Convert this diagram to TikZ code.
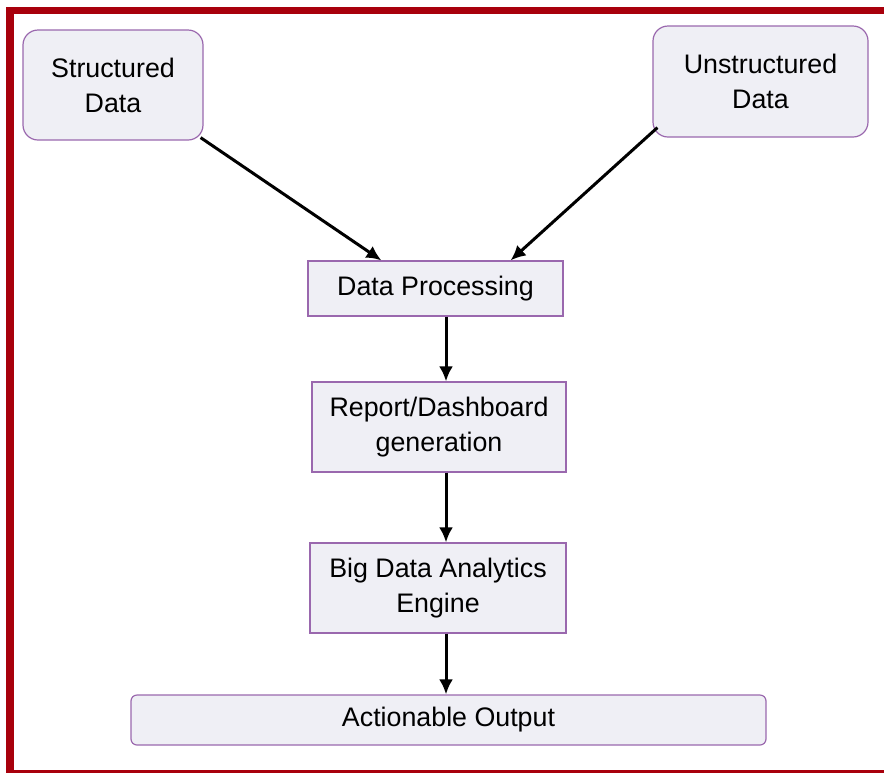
\documentclass[tikz,border=0pt]{standalone}
\usepackage{fontspec}
\setmainfont{Liberation Sans}
\usepackage{xcolor}
\definecolor{framered}{HTML}{A8000C}
\definecolor{boxline}{HTML}{9A68AE}
\definecolor{boxfill}{HTML}{EFEFF5}
\usepackage{tikz}
\usetikzlibrary{arrows.meta}

\begin{document}
\begin{tikzpicture}[x=0.5pt, y=-0.5pt,
			every node/.style={font=\fontsize{13.4}{17.5}\selectfont, align=center, inner sep=0pt},
			sourcebox/.style={draw=boxline, fill=boxfill, line width=0.6pt, rounded corners=7.5pt},
			stagebox/.style={draw=boxline, fill=boxfill, line width=0.6pt},
			flow/.style={line width=1.5pt, -{Latex[length=7.5pt,width=7pt]}},
			]
			\useasboundingbox (0,0) rectangle (884,773);
			% frame
			\fill[framered] (6,7) rectangle (884,14);
			\fill[framered] (6,7) rectangle (14,773);
			\fill[framered] (6,770) rectangle (884,773);
			
			\node[sourcebox, minimum width=90pt, minimum height=55pt] (sd) at (113,85) {Structured\\Data};
			\node[sourcebox, minimum width=107.5pt, minimum height=55.5pt] (ud) at (760.5,81.5) {Unstructured\\Data};
			\node[stagebox, minimum width=127.5pt, minimum height=27.5pt] (dp) at (435.5,288.5) {Data Processing};
			\node[stagebox, minimum width=127pt, minimum height=45pt] (rep) at (439,427) {Report/Dashboard\\generation};
			\node[stagebox, minimum width=128pt, minimum height=45pt] (eng) at (438,588) {Big Data Analytics\\Engine};
			\node[sourcebox, rounded corners=3pt, minimum width=317.5pt, minimum height=25pt] (out) at (448.5,720) {Actionable Output};
			\coordinate (axis) at (446,0);
			
			\draw[flow] ([xshift=-1.5pt,yshift=1.5pt]sd.south east) -- ([xshift=37pt]dp.north west);
			\draw[flow] ([xshift=2.5pt,yshift=5pt]ud.south west) -- ([xshift=-26.5pt]dp.north east);
			\draw[flow] (dp.south -| axis) -- (rep.north -| axis);
			\draw[flow] (rep.south -| axis) -- (eng.north -| axis);
			\draw[flow] (eng.south -| axis) -- (out.north -| axis);
			
		\end{tikzpicture}
\end{document}
